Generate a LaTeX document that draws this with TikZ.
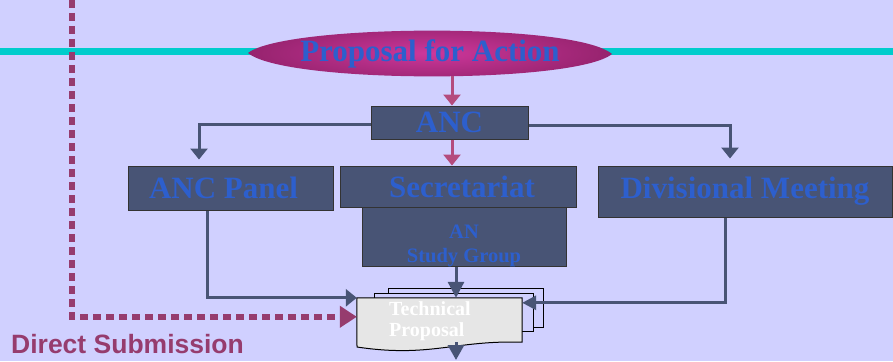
\documentclass[tikz,border=0pt]{standalone}
\usepackage{fontspec}
\setmainfont{Liberation Serif}
\setsansfont{Liberation Sans}
\usetikzlibrary{arrows.meta}
\definecolor{bgcol}{RGB}{208,208,255}
\definecolor{cyanbar}{RGB}{0,204,204}
\definecolor{lensin}{RGB}{205,55,155}
\definecolor{lensout}{RGB}{150,35,110}
\definecolor{slate}{RGB}{72,84,117}
\definecolor{boxtext}{RGB}{45,95,205}
\definecolor{pinkarr}{RGB}{180,75,125}
\definecolor{dashcol}{RGB}{150,60,110}
\definecolor{docfill}{RGB}{230,230,230}

\begin{document}
\begin{tikzpicture}[x=1pt,y=-1pt,>={Triangle[width=17pt,length=11pt]},
  box/.style={draw=black!80,fill=slate,line width=1pt,inner sep=0pt,text=boxtext,font=\fontsize{31}{31}\selectfont\bfseries},
  flow/.style={->,draw=slate,line width=3pt},
  pinkflow/.style={->,draw=pinkarr,line width=3pt},
  docline/.style={draw=black,line width=1pt}]
% Background
\fill[bgcol] (0,0) rectangle (893,361);
\useasboundingbox (0,0) rectangle (893,361);

% Cyan bar
\fill[cyanbar] (0,48) rectangle (893,55);

% Direct submission route
\coordinate (dstart) at (72,0);

% Proposal lens
\shade[inner color=lensin,outer color=lensout] (248,53) .. controls (285,24) and (575,22) .. (612,54) .. controls (575,84) and (285,84) .. cycle;
\node[text=boxtext,font=\fontsize{31}{31}\selectfont\bfseries] (pfa) at (430,54) {Proposal for Action};
\coordinate (lensbot) at (452,76);

% Boxes
\node[box,minimum width=157pt,minimum height=33pt] (anc) at (449.5,122.5) {ANC};
\node[box,minimum width=205pt,minimum height=44pt] (panel) at (230.5,188) {ANC Panel\hspace*{14pt}};
\node[box,minimum width=204pt,minimum height=59pt] (sg) at (464,236.5) {};
\node[box,minimum width=236pt,minimum height=41pt] (sec) at (458,186.5) {\hspace*{8pt}Secretariat};
\node[box,minimum width=294pt,minimum height=51pt] (div) at (745,191.5) {Divisional Meeting};
\node[text=boxtext,align=center,inner sep=0pt,font=\fontsize{20.5}{24}\selectfont\bfseries] (sgtext) at (464,246) {AN\\Study Group};

% Technical proposal stack
\draw[docline,fill=bgcol] (388,288) rectangle (543,327);
\draw[docline,fill=bgcol] (374,293) rectangle (533,331);
\node[minimum width=165pt,minimum height=44pt,inner sep=0pt] (doc) at (439.5,320) {};
\draw[docline,fill=docfill] (doc.north west) -- (doc.north east) -- (doc.south east)
  .. controls (455,340) and (430,358) .. (357,347) -- cycle;
\node[anchor=north west,align=left,inner sep=0pt,text=white,font=\fontsize{20}{21}\selectfont\bfseries] (tp) at (389,301) {Technical\\Proposal};
\coordinate (docout) at (456,360);

% Connectors
\draw[pinkflow] (lensbot) -- (lensbot |- anc.north);
\draw[pinkflow] ([xshift=2.5pt]anc.south) -- ([xshift=2.5pt]anc.south |- sec.north);
\draw[flow,shorten >=6pt] ([yshift=-1.5pt]anc.west) -| ([xshift=-31.5pt]panel.north);
\draw[flow,shorten >=7pt] ([yshift=-2.5pt]anc.east) -| ([xshift=-15pt]div.north);
\draw[flow] ([xshift=-23.5pt]panel.south) |- (doc.north west);
\draw[flow,>={Triangle[width=16pt,length=16pt]}] ([xshift=-8pt]sg.south) -- ([xshift=-8pt]sg.south |- doc.north);
\draw[flow,>={Triangle[width=14pt,length=14pt]}] ([xshift=-20pt]div.south) |- ([yshift=-5pt]doc.north east);
\draw[flow,>={Triangle[width=16pt,length=15pt]}] ([xshift=16.5pt]doc.south) -- (docout);
\draw[draw=dashcol,line width=5.5pt,dash pattern=on 8pt off 5pt,->,>={Triangle[width=21pt,length=17pt]}] (dstart) |- ([yshift=-19pt]doc.north west);

% Label
\node[anchor=base west,inner sep=0pt,text=dashcol,font=\sffamily\fontsize{26.5}{26.5}\selectfont\bfseries] (dsub) at (11,353) {Direct Submission};
\end{tikzpicture}
\end{document}
